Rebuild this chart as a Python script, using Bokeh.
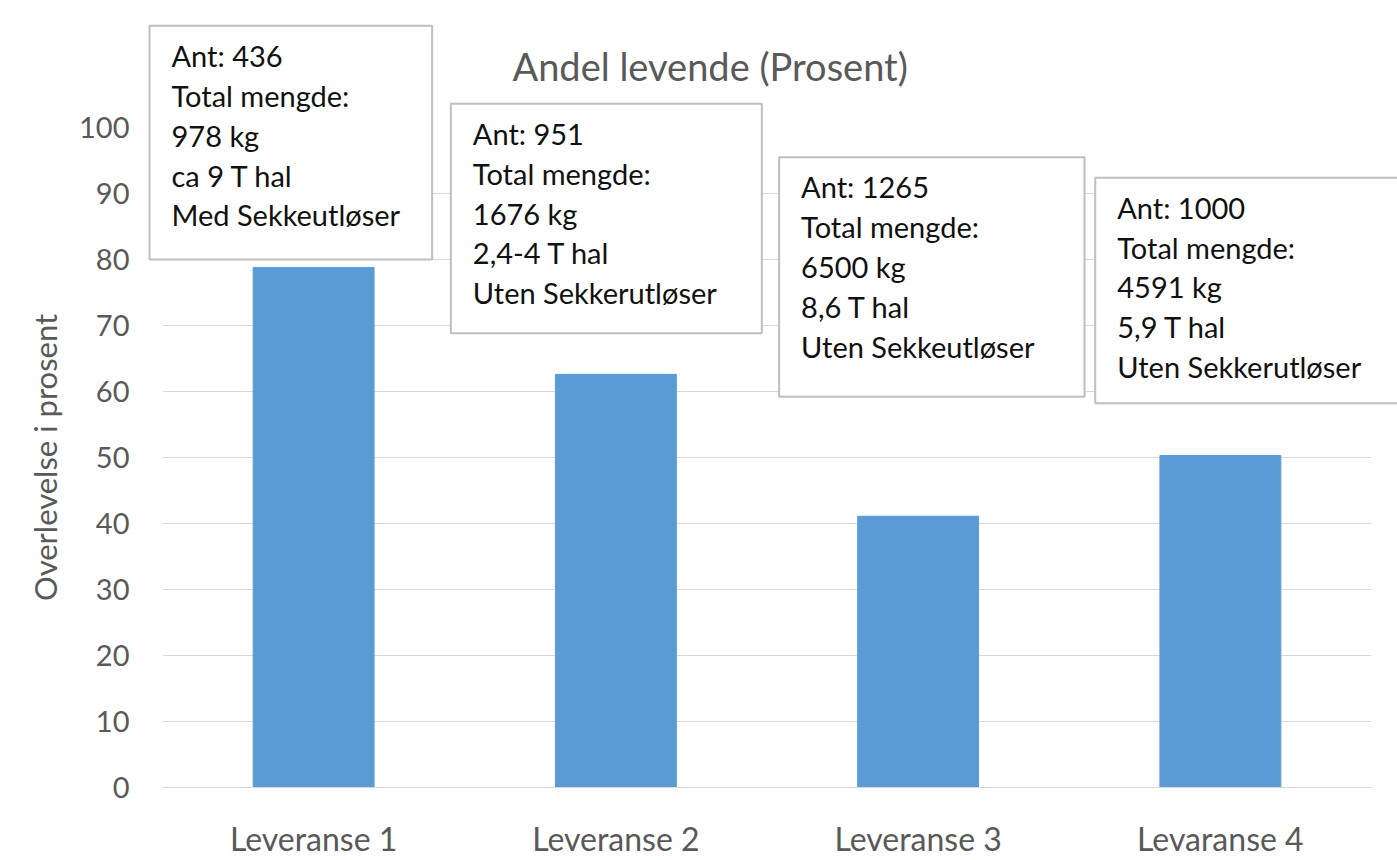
from bokeh.plotting import figure
from bokeh.models import FixedTicker, Range1d, ColumnDataSource
from bokeh.core.properties import value
from bokeh.embed import file_html
from bokeh.resources import INLINE

# ---- data ----
categories = ["Leveranse 1", "Leveranse 2", "Leveranse 3", "Levaranse 4"]
survival_pct = [78.8, 62.6, 41.1, 50.3]
y_ticks = [0, 10, 20, 30, 40, 50, 60, 70, 80, 90, 100]
box_texts = [
    "Ant: 436\nTotal mengde:\n978 kg\nca 9 T hal\nMed Sekkeutløser",
    "Ant: 951\nTotal mengde:\n1676 kg\n2,4-4 T hal\nUten Sekkerutløser",
    "Ant: 1265\nTotal mengde:\n6500 kg\n8,6 T hal\nUten Sekkeutløser",
    "Ant: 1000\nTotal mengde:\n4591 kg\n5,9 T hal\nUten Sekkerutløser",
]
title_text = "Andel levende (Prosent)"
y_label = "Overlevelse i prosent"

# ---- layout (annotation anchors in data units) ----
box_dx = [-0.043, -0.046, 0.040, 0.086]     # offset of box left edge from category slot start
box_top = [115.4, 103.6, 95.5, 92.4]         # top edge of each box
box_pad_right = [32, 45, 50, 40]
box_pad_bottom = [27, 23, 33, 19]

FONT = "Lato"
GRAY = "#595959"

xpos = [i + 0.5 for i in range(len(categories))]
src = ColumnDataSource(dict(x=xpos, val=survival_pct))

p = figure(
    x_range=Range1d(0, len(categories)),
    y_range=Range1d(0, 100),
    width=1397, height=860,
    output_backend="svg", toolbar_location=None,
    min_border_left=162, min_border_right=26,
    min_border_top=127, min_border_bottom=71,
)
p.background_fill_color = "white"
p.border_fill_color = "white"
p.outline_line_color = None

p.vbar(x="x", top="val", width=0.4, source=src,
       fill_color="#5B9BD5", line_color="#5B9BD5")

# title
p.title.text = title_text
p.title.align = "left"
p.title.offset = 350
p.title.text_font = FONT
p.title.text_font_size = "38px"
p.title.text_font_style = "normal"
p.title.text_color = GRAY
p.title.standoff = 78

# axes
yt = FixedTicker(ticks=y_ticks)
p.yaxis.ticker = yt
p.ygrid.ticker = yt
p.yaxis.axis_line_color = None
p.yaxis.major_tick_line_color = None
p.yaxis.minor_tick_line_color = None
p.yaxis.major_label_text_font = FONT
p.yaxis.major_label_text_font_size = "29px"
p.yaxis.major_label_text_color = GRAY
p.yaxis.major_label_standoff = 27
p.yaxis.axis_label = y_label
p.yaxis.axis_label_text_font = FONT
p.yaxis.axis_label_text_font_size = "31px"
p.yaxis.axis_label_text_font_style = "normal"
p.yaxis.axis_label_text_color = GRAY
p.yaxis.axis_label_standoff = 12

p.xaxis.ticker = FixedTicker(ticks=xpos)
p.xaxis.major_label_overrides = {x: c for x, c in zip(xpos, categories)}
p.xaxis.axis_line_color = "#d9d9d9"
p.xaxis.major_tick_line_color = None
p.xaxis.minor_tick_line_color = None
p.xaxis.major_label_text_font = FONT
p.xaxis.major_label_text_font_size = "32px"
p.xaxis.major_label_text_color = GRAY
p.xaxis.major_label_standoff = 25

p.xgrid.grid_line_color = None
p.ygrid.grid_line_color = "#d9d9d9"
p.ygrid.grid_line_width = 1

# info boxes (overlay level so they may extend past the plot area, as in the original)
for i, txt in enumerate(box_texts):
    p.text(
        x=[i + box_dx[i]], y=[box_top[i]], text=[txt], anchor="top_left",
        text_font=value(FONT), text_font_size="29px", text_color="#111111",
        text_line_height=1.14,
        background_fill_color="white", border_line_color="#bfbfbf",
        border_line_width=2,
        padding=dict(left=22, right=box_pad_right[i], top=12, bottom=box_pad_bottom[i]),
        level="overlay",
    )

open("out.html", "w").write(file_html(p, INLINE))
